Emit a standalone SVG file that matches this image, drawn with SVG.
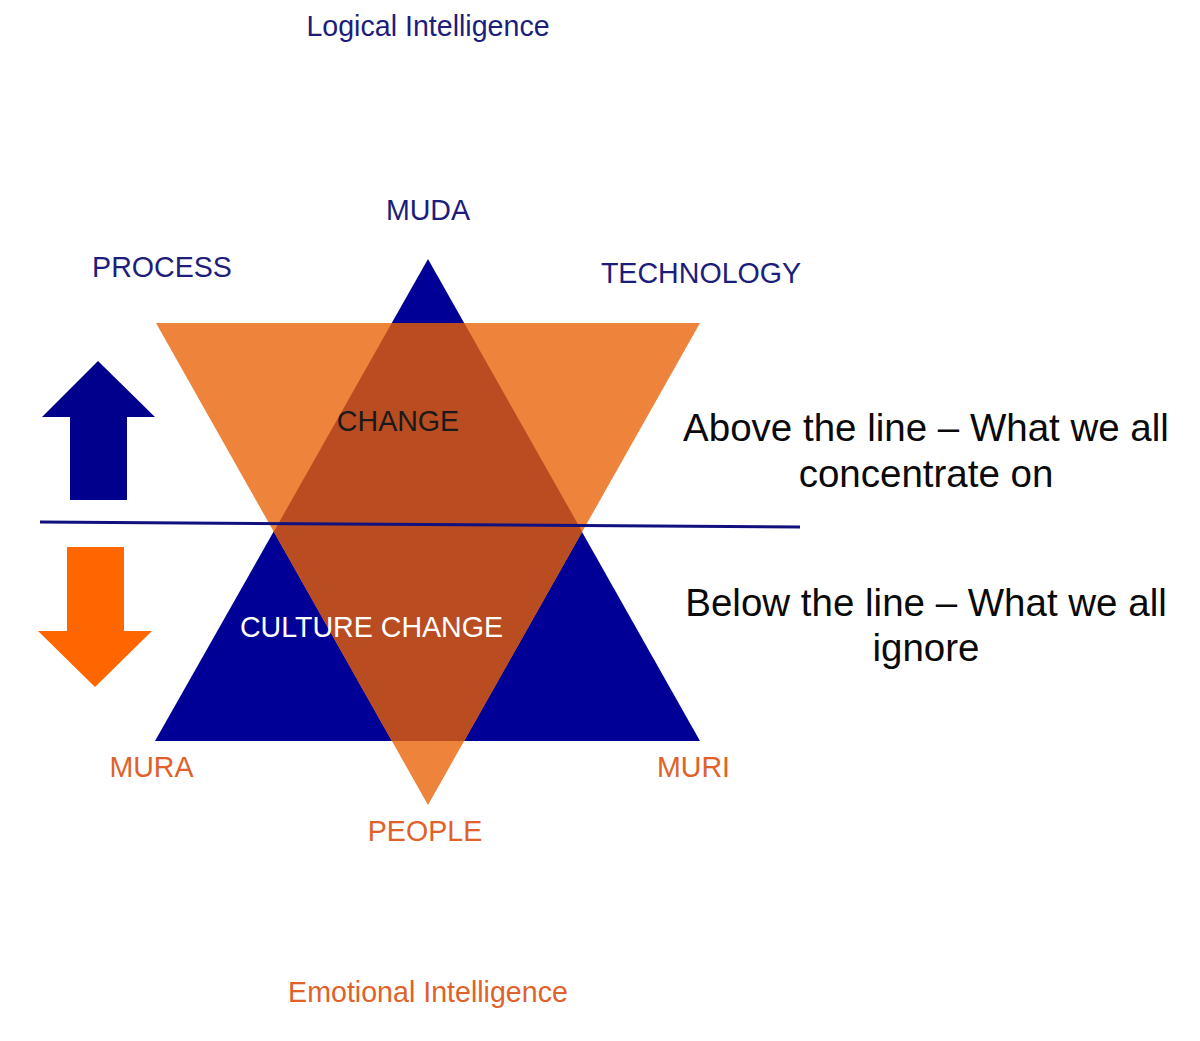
<svg xmlns="http://www.w3.org/2000/svg" width="1200" height="1041" viewBox="0 0 1200 1041">
<style>
text{font-family:"Liberation Sans",Arial,sans-serif;text-anchor:middle}
.lbl{font-size:28.6px}
.navy{fill:#1d1d7c}
.org{fill:#e0622a}
.big{font-size:38.5px;fill:#0a0a0a}
</style>
<rect width="1200" height="1041" fill="#ffffff"/>
<g id="triangles">
<polygon id="blue-triangle" points="428,259 155,741 700,741" fill="#000096"/>
<polygon id="orange-triangle" points="156,323 700,323 428,805" fill="#ee833c"/>
<polygon id="overlap" points="391.8,323 464.2,323 582.2,531.7 464.1,741 391.9,741 273.8,531.7" fill="#b94c21"/>
</g>
<g id="connectors">
<line id="divider" x1="40" y1="522" x2="800" y2="527" stroke="#10107e" stroke-width="3"/>
</g>
<g id="up-arrow">
<polygon points="98,361 155,417 127,417 127,500 70,500 70,417 42,417" fill="#00008c"/>
</g>
<g id="down-arrow">
<polygon points="67,547 124,547 124,631 152,631 95,687 38,631 67,631" fill="#ff6600"/>
</g>
<g id="labels">
<text class="lbl navy" x="428" y="36">Logical Intelligence</text>
<text class="lbl navy" x="428" y="220">MUDA</text>
<text class="lbl navy" x="162" y="277">PROCESS</text>
<text class="lbl navy" x="701" y="283">TECHNOLOGY</text>
<text class="lbl" x="398" y="431" fill="#1a1a1a">CHANGE</text>
<text class="lbl" x="371.5" y="637" fill="#ffffff">CULTURE CHANGE</text>
<text class="lbl org" x="151.5" y="777">MURA</text>
<text class="lbl org" x="693.5" y="777">MURI</text>
<text class="lbl org" x="425" y="841">PEOPLE</text>
<text class="lbl org" x="428" y="1002">Emotional Intelligence</text>
<text class="big" x="926" y="441">Above the line – What we all</text>
<text class="big" x="926" y="487">concentrate on</text>
<text class="big" x="926" y="616">Below the line – What we all</text>
<text class="big" x="926" y="661">ignore</text>
</g>
</svg>
